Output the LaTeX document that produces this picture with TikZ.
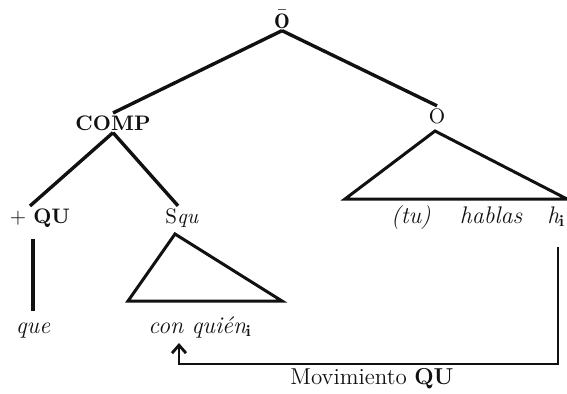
\documentclass[tikz,border=0pt]{standalone}
\usepackage{fontspec}
\usepackage{amsmath}
\usetikzlibrary{arrows.meta}
\definecolor{color_ink}{HTML}{111111}
\tikzset{
  tree_cat/.style={font=\fontsize{10.5}{12}\selectfont, text=color_ink, inner sep=1pt, anchor=base},
  tree_word/.style={font=\fontsize{12}{14}\selectfont\itshape\addfontfeature{LetterSpace=6}, text=color_ink, inner sep=1pt, anchor=base},
  tree_branch/.style={draw=color_ink, line width=1.7pt},
  tree_roof/.style={draw=color_ink, line width=1.5pt, line join=miter},
  move_arrow/.style={draw=color_ink, line width=1.4pt, -{Straight Barb[length=4pt, width=7pt]}},
}

\begin{document}
\begin{tikzpicture}[x=0.5pt, y=-0.5pt]
    \useasboundingbox (0,0) rectangle (567,393);
    % categories
    \node[tree_cat] (root) at (282,28) {$\bar{\mathbf{O}}$};
    \node[tree_cat] (comp) at (113,130) {\bfseries COMP};
    \node[tree_cat] (ocl) at (437,123) {O};
    \node[tree_cat] (qu) at (40,223) {+ \textbf{QU}};
    \node[tree_cat] (squ) at (182,223) {S\textit{qu}};
    % words
    \node[tree_word] (que) at (33,333) {que};
    \node[tree_word, anchor=base west] (cq) at (146,333) {con quién$_{\mathbf{i}}$};
    \node[tree_word] (tu) at (411,223) {(tu)};
    \node[tree_word] (hablas) at (491,223) {hablas};
    \node[tree_word, anchor=base west] (hi) at (545,223) {h$_{\mathbf{i}}$};
    \node[tree_cat, font=\fontsize{11.5}{13}\selectfont] (mov) at (372,384) {Movimiento \textbf{QU}};
    % branches
    \draw[tree_branch] (root.south) -- (comp.north);
    \draw[tree_branch] (root.south) -- (ocl.north);
    \draw[tree_branch] (comp.south) -- ([xshift=-5pt]qu.north);
    \draw[tree_branch] (comp.south) -- ([xshift=-2pt]squ.north);
    \draw[tree_branch, shorten <=5pt, shorten >=4.5pt] (que.north |- qu.south) -- (que.north);
    % roofs
    \draw[tree_roof] (175,234) -- (128,301) -- (282,301) -- cycle;
    \draw[tree_roof] (435,131) -- (345,199) -- (567,199) -- cycle;
    % movement
    \coordinate (hook) at (558,364);
    \coordinate (tip) at (179,343);
    \draw[move_arrow, shorten <=9pt] (hook |- hi.south) -- (hook) -| (tip);
\end{tikzpicture}
\end{document}
